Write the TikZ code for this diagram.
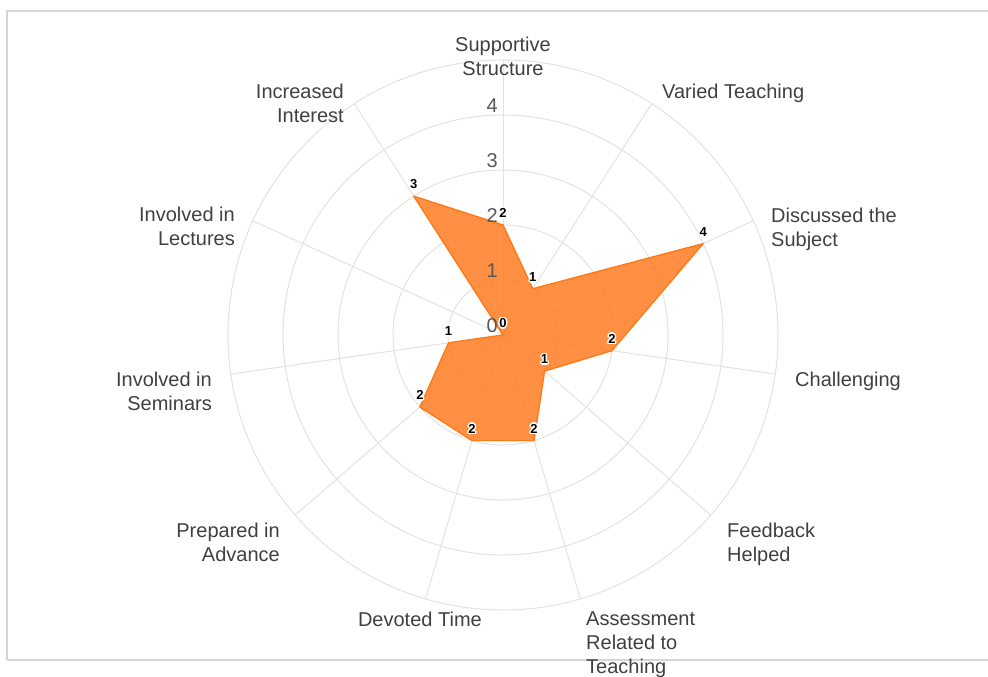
\documentclass[tikz,border=0pt]{standalone}
\usepackage{fontspec}
\setmainfont{Liberation Sans}
\usepackage{tikz}
\usetikzlibrary{positioning,calc}

\definecolor{gridgray}{RGB}{226,226,226}
\definecolor{framegray}{RGB}{214,214,214}
\definecolor{labelgray}{RGB}{64,64,64}
\definecolor{scalegray}{RGB}{88,88,88}
\definecolor{radarline}{RGB}{255,122,20}
\definecolor{radarfill}{RGB}{255,128,40}

% value label with a white halo round it
\newcommand{\valuelabel}[3]{%
	\foreach \hx/\hy in {-1.5/0,1.5/0,0/-1.5,0/1.5,-1.1/-1.1,-1.1/1.1,1.1/-1.1,1.1/1.1}
		\node[valhalo, xshift=\hx pt, yshift=\hy pt] at ([yshift=7pt]#2) {#3};
	\node[valtext] (#1) at ([yshift=7pt]#2) {#3};
}

\begin{document}
\begin{tikzpicture}[x=1pt, y=-1pt,
	gridline/.style={draw=gridgray, line width=1pt},
	axislabel/.style={inner sep=0pt, text=labelgray, font=\fontsize{20}{24}\selectfont},
	scalelabel/.style={inner sep=0pt, anchor=south east, text=scalegray, font=\fontsize{20}{22}\selectfont},
	valtext/.style={inner sep=0pt, anchor=south, text=black, font=\fontsize{13}{15}\selectfont\bfseries},
	valhalo/.style={valtext, text=white}]

	\useasboundingbox (0,0) rectangle (988,677);

	\draw[framegray, line width=1.5pt] (7,660) -- (7,11) -- (995,11);
	\draw[framegray, line width=1.5pt] (7,660) -- (995,660);

	\coordinate (C) at (503,335);

	\begin{scope}[shift={(C)}]
		% rings
		\draw[gridline] (0,0) circle (55);
		\draw[gridline] (0,0) circle (110);
		\draw[gridline] (0,0) circle (165);
		\draw[gridline] (0,0) circle (220);
		\draw[gridline] (0,0) circle (275);

		% spoke ends
		\coordinate (E0) at (-90:275);
		\coordinate (E1) at (-57.273:275);
		\coordinate (E2) at (-24.545:275);
		\coordinate (E3) at (8.182:275);
		\coordinate (E4) at (40.909:275);
		\coordinate (E5) at (73.636:275);
		\coordinate (E6) at (106.364:275);
		\coordinate (E7) at (139.091:275);
		\coordinate (E8) at (171.818:275);
		\coordinate (E9) at (204.545:275);
		\coordinate (E10) at (237.273:275);

		% data points
		\coordinate (V0) at (-90:110);
		\coordinate (V1) at (-57.273:55);
		\coordinate (V2) at (-24.545:220);
		\coordinate (V3) at (8.182:110);
		\coordinate (V4) at (40.909:55);
		\coordinate (V5) at (73.636:110);
		\coordinate (V6) at (106.364:110);
		\coordinate (V7) at (139.091:110);
		\coordinate (V8) at (171.818:55);
		\coordinate (V9) at (0,0);
		\coordinate (V10) at (237.273:165);
	\end{scope}

	\draw[gridline] (C) -- (E0);
	\draw[gridline] (C) -- (E1);
	\draw[gridline] (C) -- (E2);
	\draw[gridline] (C) -- (E3);
	\draw[gridline] (C) -- (E4);
	\draw[gridline] (C) -- (E5);
	\draw[gridline] (C) -- (E6);
	\draw[gridline] (C) -- (E7);
	\draw[gridline] (C) -- (E8);
	\draw[gridline] (C) -- (E9);
	\draw[gridline] (C) -- (E10);

	% the area
	\draw[radarline, line width=1.4pt, line join=round, fill=radarfill, fill opacity=0.88]
		(V0) -- (V1) -- (V2) -- (V3) -- (V4) -- (V5) -- (V6) -- (V7) -- (V8) -- (V9) -- (V10) -- cycle;

	% scale
	\node[scalelabel] (S0) at ([xshift=-5pt, yshift=2pt]C) {0};
	\node[scalelabel] (S1) at ([xshift=-5pt, yshift=57pt]C) {1};
	\node[scalelabel] (S2) at ([xshift=-5pt, yshift=112pt]C) {2};
	\node[scalelabel] (S3) at ([xshift=-5pt, yshift=167pt]C) {3};
	\node[scalelabel] (S4) at ([xshift=-5pt, yshift=222pt]C) {4};

	% values
	\valuelabel{L0}{V0}{2}
	\valuelabel{L1}{V1}{1}
	\valuelabel{L2}{V2}{4}
	\valuelabel{L3}{V3}{2}
	\valuelabel{L4}{V4}{1}
	\valuelabel{L5}{V5}{2}
	\valuelabel{L6}{V6}{2}
	\valuelabel{L7}{V7}{2}
	\valuelabel{L8}{V8}{1}
	\valuelabel{L9}{V9}{0}
	\valuelabel{L10}{V10}{3}

	% axis names
	\node[axislabel, anchor=north, align=center] (A0) at (503,37) {Supportive\\Structure};
	\node[axislabel, anchor=north west, align=left] (A1) at (662,84) {Varied Teaching};
	\node[axislabel, anchor=north west, align=left] (A2) at (771,208) {Discussed the\\Subject};
	\node[axislabel, anchor=north west, align=left] (A3) at (795,372) {Challenging};
	\node[axislabel, anchor=north west, align=left] (A4) at (727,523) {Feedback\\Helped};
	\node[axislabel, anchor=north west, align=left] (A5) at (586,612) {Assessment\\Related to\\Teaching};
	\node[axislabel, anchor=north east, align=right] (A6) at (482,612) {Devoted Time};
	\node[axislabel, anchor=north east, align=right] (A7) at (280,523) {Prepared in\\Advance};
	\node[axislabel, anchor=north east, align=right] (A8) at (212,372) {Involved in\\Seminars};
	\node[axislabel, anchor=north east, align=right] (A9) at (235,207) {Involved in\\Lectures};
	\node[axislabel, anchor=north east, align=right] (A10) at (344,84) {Increased\\Interest};

\end{tikzpicture}
\end{document}
